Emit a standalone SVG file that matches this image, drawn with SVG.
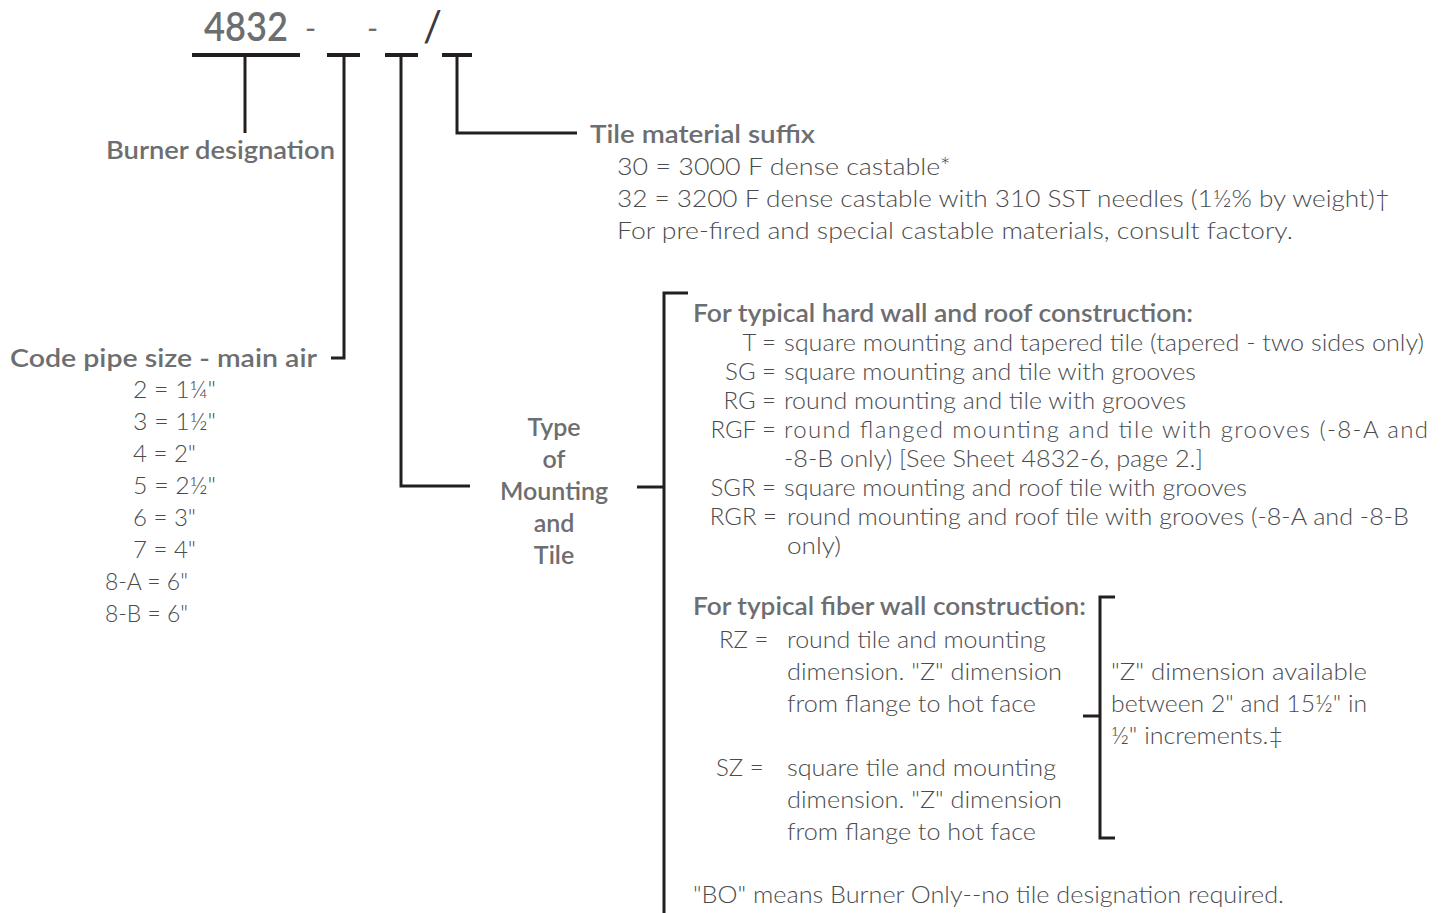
<svg xmlns="http://www.w3.org/2000/svg" width="1448" height="913" viewBox="0 0 1448 913">
<style>
.ln{stroke:#231f20;stroke-width:3;fill:none}
.bar{stroke:#231f20;stroke-width:4;fill:none}
.h{font-family:Lato,"Liberation Sans",sans-serif;font-weight:600;fill:#6d6e70}
.t{font-family:Lato,"Liberation Sans",sans-serif;font-weight:300;fill:#4a4b4d;font-size:24px}
.sym{font-family:Lato,"Liberation Sans",sans-serif;font-weight:400}
</style>
<rect width="1448" height="913" fill="#ffffff"/>
<g id="code-header">
<text class="h" x="204" y="41" font-size="40" textLength="84" lengthAdjust="spacingAndGlyphs">4832</text>
<text class="sym" x="305" y="39" font-size="30" fill="#6d6e70">-</text>
<text class="sym" x="367" y="39" font-size="30" fill="#6d6e70">-</text>
<text class="sym" x="423" y="41" font-size="42" fill="#3b3a3c">/</text>
</g>
<g id="connectors">
<line class="bar" x1="192" y1="55" x2="300" y2="55"/>
<line class="bar" x1="327" y1="55" x2="360" y2="55"/>
<line class="bar" x1="385" y1="55" x2="418" y2="55"/>
<line class="bar" x1="442" y1="55" x2="472" y2="55"/>
<line class="ln" x1="245" y1="55" x2="245" y2="133"/>
<polyline class="ln" points="344,55 344,358 331,358"/>
<polyline class="ln" points="401,55 401,486 470,486"/>
<polyline class="ln" points="457,55 457,133 577,133"/>
<line class="ln" x1="637" y1="487" x2="664" y2="487"/>
<polyline class="ln" points="688,293 664,293 664,913"/>
<polyline class="ln" points="1115,597 1100,597 1100,838 1115,838"/>
<line class="ln" x1="1083" y1="716" x2="1100" y2="716"/>
</g>
<g id="burner-designation">
<text class="h" x="106" y="159" font-size="25" textLength="229" lengthAdjust="spacingAndGlyphs">Burner designation</text>
</g>
<g id="tile-material">
<text class="h" x="590" y="143" font-size="25" textLength="225" lengthAdjust="spacingAndGlyphs">Tile material suffix</text>
<text class="t" x="617" y="175" textLength="334" lengthAdjust="spacingAndGlyphs">30  = 3000 F dense castable*</text>
<text class="t" x="617" y="207" textLength="773" lengthAdjust="spacingAndGlyphs">32  = 3200 F dense castable with 310 SST needles (1½% by weight)†</text>
<text class="t" x="617" y="239" textLength="676" lengthAdjust="spacingAndGlyphs">For pre-fired and special castable materials, consult factory.</text>
</g>
<g id="pipe-size">
<text class="h" x="10" y="367" font-size="25" textLength="307" lengthAdjust="spacingAndGlyphs">Code pipe size - main air</text>
<text class="t" x="133" y="398" textLength="83" lengthAdjust="spacingAndGlyphs">2 = 1¼"</text>
<text class="t" x="133" y="430" textLength="83" lengthAdjust="spacingAndGlyphs">3 = 1½"</text>
<text class="t" x="133" y="462" textLength="63" lengthAdjust="spacingAndGlyphs">4 = 2"</text>
<text class="t" x="133" y="494" textLength="83" lengthAdjust="spacingAndGlyphs">5 = 2½"</text>
<text class="t" x="133" y="526" textLength="63" lengthAdjust="spacingAndGlyphs">6 = 3"</text>
<text class="t" x="133" y="558" textLength="63" lengthAdjust="spacingAndGlyphs">7 = 4"</text>
<text class="t" x="105" y="590" textLength="83" lengthAdjust="spacingAndGlyphs">8-A = 6"</text>
<text class="t" x="105" y="622" textLength="83" lengthAdjust="spacingAndGlyphs">8-B = 6"</text>
</g>
<g id="type-mounting" text-anchor="middle">
<text class="h" x="554" y="436" font-size="25">Type</text>
<text class="h" x="554" y="468" font-size="25">of</text>
<text class="h" x="554" y="500" font-size="25">Mounting</text>
<text class="h" x="554" y="532" font-size="25">and</text>
<text class="h" x="554" y="564" font-size="25">Tile</text>
</g>
<g id="hard-wall">
<text class="h" x="693" y="322" font-size="24" textLength="500" lengthAdjust="spacingAndGlyphs">For typical hard wall and roof construction:</text>
<g text-anchor="end">
<text class="t" x="776" y="351">T =</text>
<text class="t" x="776" y="380">SG =</text>
<text class="t" x="776" y="409">RG =</text>
<text class="t" x="776" y="438">RGF =</text>
<text class="t" x="776" y="496">SGR =</text>
<text class="t" x="777" y="525">RGR  =</text>
</g>
<text class="t" x="784" y="351" textLength="640" lengthAdjust="spacingAndGlyphs">square mounting and tapered tile (tapered - two sides only)</text>
<text class="t" x="784" y="380" textLength="412" lengthAdjust="spacingAndGlyphs">square mounting and tile with grooves</text>
<text class="t" x="784" y="409" textLength="402" lengthAdjust="spacingAndGlyphs">round mounting and tile with grooves</text>
<text class="t" x="784" y="438" textLength="644" lengthAdjust="spacing">round flanged mounting and tile with grooves (-8-A and</text>
<text class="t" x="784" y="467" textLength="419" lengthAdjust="spacingAndGlyphs">-8-B only) [See Sheet 4832-6, page 2.]</text>
<text class="t" x="784" y="496" textLength="463" lengthAdjust="spacingAndGlyphs">square mounting and roof tile with grooves</text>
<text class="t" x="787" y="525" textLength="622" lengthAdjust="spacingAndGlyphs">round mounting and roof tile with grooves (-8-A and -8-B</text>
<text class="t" x="787" y="554" textLength="54" lengthAdjust="spacingAndGlyphs">only)</text>
</g>
<g id="fiber-wall">
<text class="h" x="693" y="615" font-size="24" textLength="393" lengthAdjust="spacingAndGlyphs">For typical fiber wall construction:</text>
<text class="t" x="719" y="648">RZ =</text>
<text class="t" x="787" y="648" textLength="259" lengthAdjust="spacingAndGlyphs">round tile and mounting</text>
<text class="t" x="787" y="680" textLength="275" lengthAdjust="spacingAndGlyphs">dimension. "Z" dimension</text>
<text class="t" x="787" y="712" textLength="249" lengthAdjust="spacingAndGlyphs">from flange to hot face</text>
<text class="t" x="716" y="776">SZ =</text>
<text class="t" x="787" y="776" textLength="269" lengthAdjust="spacingAndGlyphs">square tile and mounting</text>
<text class="t" x="787" y="808" textLength="275" lengthAdjust="spacingAndGlyphs">dimension. "Z" dimension</text>
<text class="t" x="787" y="840" textLength="249" lengthAdjust="spacingAndGlyphs">from flange to hot face</text>
</g>
<g id="z-dimension">
<text class="t" x="1111" y="680" textLength="256" lengthAdjust="spacingAndGlyphs">"Z" dimension available</text>
<text class="t" x="1111" y="712" textLength="256" lengthAdjust="spacingAndGlyphs">between 2" and 15½" in</text>
<text class="t" x="1111" y="744" textLength="172" lengthAdjust="spacingAndGlyphs">½" increments.‡</text>
</g>
<g id="burner-only">
<text class="t" x="693" y="903" textLength="591" lengthAdjust="spacingAndGlyphs">"BO" means Burner Only--no tile designation required.</text>
</g>
</svg>
